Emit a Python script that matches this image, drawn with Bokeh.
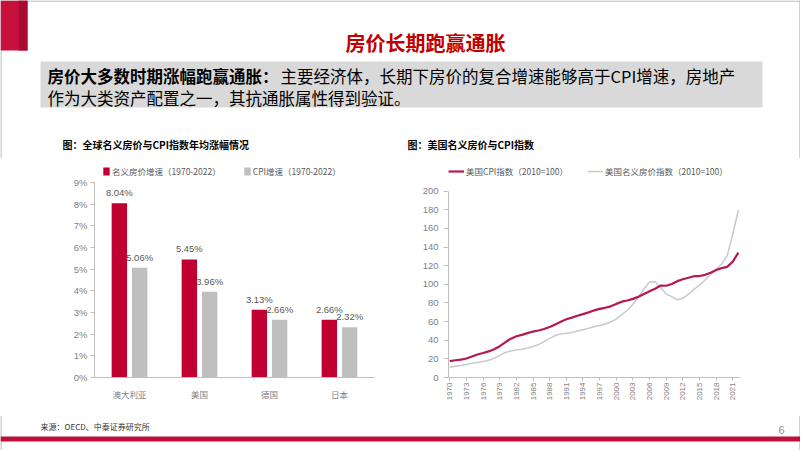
import math
from bokeh.plotting import figure
from bokeh.models import (Range1d, FactorRange, ColumnDataSource, Legend, LegendItem,
                          FixedTicker, PrintfTickFormatter)
from bokeh.layouts import column, row
from bokeh.transform import dodge
from bokeh.core.properties import value
from bokeh.embed import file_html
from bokeh.resources import INLINE

CJK = "Noto Sans CJK SC"
NUM = "Liberation Sans"

# ---------------- data ----------------
countries = ["澳大利亚", "美国", "德国", "日本"]
house_growth = [8.04, 5.45, 3.13, 2.66]
cpi_growth = [5.06, 3.96, 2.66, 2.32]
bar_series = ["名义房价增速（1970-2022）", "CPI增速（1970-2022）"]
pct_ticks = [0, 1, 2, 3, 4, 5, 6, 7, 8, 9]

years = list(range(1970, 2023))
us_cpi = [17.5, 18.5, 19.2, 20.4, 22.6, 24.7, 26.3, 28.0, 30.3, 33.6,
          37.8, 41.7, 44.3, 45.8, 47.6, 49.3, 50.4, 52.1, 54.3, 56.9,
          59.9, 62.5, 64.3, 66.3, 68.0, 69.9, 72.0, 73.6, 74.8, 76.4,
          79.0, 81.4, 82.6, 84.4, 86.6, 89.6, 92.5, 95.3, 98.7, 98.5,
          100.3, 103.4, 105.4, 107.0, 108.7, 108.9, 110.2, 112.5, 115.3, 117.4,
          118.8, 124.4, 134.0]
us_house = [11.0, 12.0, 13.0, 14.0, 15.2, 16.2, 17.2, 18.5, 20.5, 23.8,
            26.8, 28.4, 29.4, 30.3, 31.6, 33.3, 35.5, 38.4, 42.0, 45.0,
            46.8, 47.4, 48.4, 49.8, 51.2, 52.8, 54.4, 55.8, 57.4, 59.6,
            62.6, 67.4, 72.2, 78.6, 86.4, 95.2, 102.4, 102.8, 96.5, 89.5,
            86.8, 83.4, 85.0, 89.4, 94.6, 99.2, 104.6, 110.6, 116.2, 121.6,
            130.8, 154.0, 179.5]
year_ticks = list(range(1970, 2022, 3))
idx_ticks = [0, 20, 40, 60, 80, 100, 120, 140, 160, 180, 200]
line_series = ["美国CPI指数（2010=100）", "美国名义房价指数（2010=100）"]

slide_title = "房价长期跑赢通胀"
summary_bold = "房价大多数时期涨幅跑赢通胀："
summary_line1 = "主要经济体，长期下房价的复合增速能够高于CPI增速，房地产"
summary_line2 = "作为大类资产配置之一，其抗通胀属性得到验证。"
chart1_title = "图：全球名义房价与CPI指数年均涨幅情况"
chart2_title = "图：美国名义房价与CPI指数"
source_note = "来源：OECD、中泰证券研究所"
page_no = "6"

RED = "#C00030"
GRAY = "#BFBFBF"
LINE_RED = "#B8194A"
LINE_GRAY = "#C9C9C9"
AXIS = "#BFBFBF"
TICK_TXT = "#7F7F7F"
LBL_TXT = "#595959"
BORDER = "#A6A6A6"

W = 800


def blank(width, height):
    f = figure(width=width, height=height, x_range=Range1d(0, width),
               y_range=Range1d(height, 0), toolbar_location=None,
               output_backend="svg", min_border=0)
    f.axis.visible = False
    f.grid.visible = False
    f.outline_line_color = None
    return f


# ---------------- header ----------------
HH = 158
hdr = blank(W, HH)
hdr.segment(x0=[0], y0=[0.5], x1=[W], y1=[0.5], line_color=BORDER, line_width=1)
hdr.segment(x0=[0.5, W - 0.5], y0=[0, 0], x1=[0.5, W - 0.5], y1=[HH, HH],
            line_color=BORDER, line_width=1)
hdr.quad(left=[0], right=[27], top=[0], bottom=[50], fill_color="#C8103C", line_color=None)
hdr.quad(left=[18], right=[27], top=[0], bottom=[50], fill_color="#A80A30", line_color=None)
hdr.quad(left=[40], right=[762], top=[61], bottom=[107], fill_color="#D9D9D9", line_color=None)
hdr.text(x=[425], y=[42], text=[slide_title], text_font=value(CJK), text_font_size="20px",
         text_font_style="bold", text_color="#C00000", text_align="center",
         text_baseline="middle")
hdr.text(x=[47], y=[75], text=[summary_bold], text_font=value(CJK), text_font_size="16.5px",
         text_font_style="bold", text_color="#000000", text_baseline="middle")
hdr.text(x=[280], y=[75], text=[summary_line1], text_font=value(CJK), text_font_size="16.5px",
         text_color="#000000", text_baseline="middle")
hdr.text(x=[47], y=[97], text=[summary_line2], text_font=value(CJK), text_font_size="16.5px",
         text_color="#000000", text_baseline="middle")
hdr.text(x=[62, 407], y=[144, 144], text=[chart1_title, chart2_title], text_font=value(CJK),
         text_font_size="10px", text_font_style="bold", text_color="#000000",
         text_baseline="middle")

# ---------------- bar chart ----------------
bar_src = ColumnDataSource(dict(
    cat=countries, house=house_growth, cpi=cpi_growth,
    house_lbl=[f"{v:.2f}%" for v in house_growth],
    cpi_lbl=[f"{v:.2f}%" for v in cpi_growth]))

RH = 257
pb = figure(width=400, height=RH, x_range=FactorRange(factors=countries, range_padding=0),
            y_range=Range1d(0, 10.015), toolbar_location=None, output_backend="svg",
            min_border_left=94, min_border_right=26, min_border_top=2, min_border_bottom=38)
r1 = pb.vbar(x=dodge("cat", -0.145, range=pb.x_range), top="house", width=0.22,
             source=bar_src, fill_color=RED, line_color=None)
r2 = pb.vbar(x=dodge("cat", 0.145, range=pb.x_range), top="cpi", width=0.22,
             source=bar_src, fill_color=GRAY, line_color=None)
pb.text(x=dodge("cat", -0.145, range=pb.x_range), y="house", text="house_lbl", source=bar_src,
        text_font=value(NUM), text_font_size="9.5px", text_color=LBL_TXT,
        text_align="center", text_baseline="bottom", y_offset=-5)
pb.text(x=dodge("cat", 0.145, range=pb.x_range), y="cpi", text="cpi_lbl", source=bar_src,
        text_font=value(NUM), text_font_size="9.5px", text_color=LBL_TXT,
        text_align="center", text_baseline="bottom", y_offset=-5)

leg1 = Legend(items=[LegendItem(label=bar_series[0], renderers=[r1]),
                     LegendItem(label=bar_series[1], renderers=[r2])],
              orientation="horizontal", location=(8, 200), border_line_color=None,
              background_fill_alpha=0, label_text_font=CJK, label_text_font_size="8.5px",
              label_text_color=LBL_TXT, glyph_width=8, glyph_height=10, label_height=10,
              label_standoff=2, spacing=22, padding=0, margin=0)
pb.add_layout(leg1)

pb.grid.visible = False
pb.outline_line_color = None
pb.yaxis.ticker = FixedTicker(ticks=pct_ticks)
pb.yaxis.formatter = PrintfTickFormatter(format="%d%%")
pb.yaxis.bounds = (0, 9)
for ax in pb.axis:
    ax.axis_line_color = AXIS
    ax.major_tick_line_color = AXIS
    ax.minor_tick_line_color = None
    ax.major_label_text_color = TICK_TXT
    ax.major_label_text_font = CJK
pb.yaxis.major_label_text_font = NUM
pb.yaxis.major_label_text_font_size = "9.5px"
pb.yaxis.major_tick_in = 0
pb.yaxis.major_tick_out = 4
pb.yaxis.major_label_standoff = 3
pb.xaxis.major_label_text_font_size = "8.5px"
pb.xaxis.major_tick_line_color = None
pb.xaxis.major_tick_in = 0
pb.xaxis.major_tick_out = 0
pb.xaxis.major_label_standoff = 10

# ---------------- line chart ----------------
pl = figure(width=400, height=RH, x_range=Range1d(1969.77, 2022.39),
            y_range=Range1d(0, 232.9), toolbar_location=None, output_backend="svg",
            min_border_left=48, min_border_right=60, min_border_top=2, min_border_bottom=38)
l_house = pl.line(years, us_house, line_color=LINE_GRAY, line_width=1.5)
l_cpi = pl.line(years, us_cpi, line_color=LINE_RED, line_width=2.2)

leg2 = Legend(items=[LegendItem(label=line_series[0], renderers=[l_cpi]),
                     LegendItem(label=line_series[1], renderers=[l_house])],
              orientation="horizontal", location=(0, 200), border_line_color=None,
              background_fill_alpha=0, label_text_font=CJK, label_text_font_size="8.5px",
              label_text_color=LBL_TXT, glyph_width=16, glyph_height=10, label_height=10,
              label_standoff=2, spacing=19, padding=0, margin=0)
pl.add_layout(leg2)

pl.grid.visible = False
pl.outline_line_color = None
pl.xaxis.ticker = FixedTicker(ticks=year_ticks)
pl.yaxis.ticker = FixedTicker(ticks=idx_ticks)
pl.yaxis.bounds = (0, 200)
for ax in pl.axis:
    ax.axis_line_color = AXIS
    ax.major_tick_line_color = AXIS
    ax.minor_tick_line_color = None
    ax.major_label_text_color = TICK_TXT
    ax.major_label_text_font = NUM
    ax.major_tick_in = 0
pl.yaxis.major_label_text_font_size = "9.5px"
pl.yaxis.major_tick_out = 5
pl.yaxis.major_label_standoff = 5
pl.xaxis.major_label_text_font_size = "8px"
pl.xaxis.major_label_orientation = math.pi / 2
pl.xaxis.major_tick_out = 3
pl.xaxis.major_label_standoff = 2

# ---------------- footer ----------------
FH = 35
ft = blank(W, FH)
ft.segment(x0=[0.5, W - 0.5], y0=[0, 0], x1=[0.5, W - 0.5], y1=[FH, FH],
           line_color=BORDER, line_width=1)
ft.text(x=[40], y=[11], text=[source_note], text_font=value(CJK), text_font_size="8px",
        text_color="#333333", text_baseline="middle")
ft.text(x=[778], y=[14], text=[page_no], text_font=value(NUM), text_font_size="11px",
        text_color="#8C8C8C", text_baseline="middle")
ft.quad(left=[0], right=[W], top=[21], bottom=[26], fill_color="#C0103A", line_color=None)

layout = column(hdr, row(pb, pl), ft)

open("out.html", "w").write(file_html(layout, INLINE))
